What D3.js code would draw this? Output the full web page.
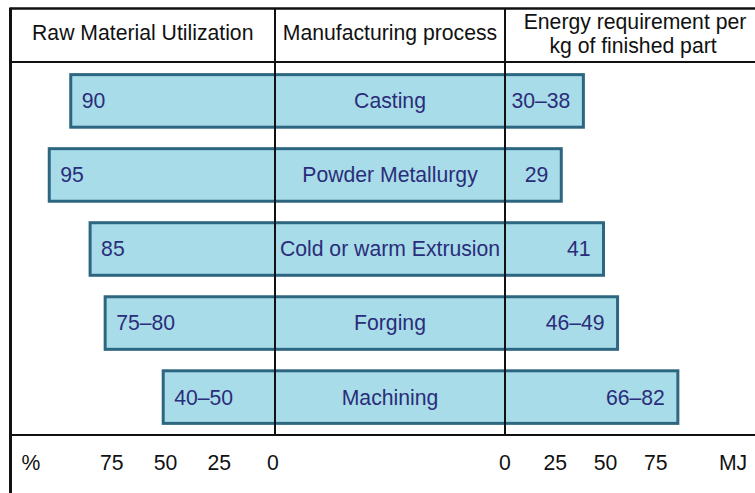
<!DOCTYPE html>
<html>
<head>
<meta charset="utf-8">
<script src="https://cdn.jsdelivr.net/npm/d3@7"></script>
<style>
  body { margin: 0; background: #fff; }
  svg { display: block; font-family: "Liberation Sans", Arial, Helvetica, sans-serif; }
</style>
</head>
<body>
<svg width="755" height="493"></svg>
<script>
// processes, top to bottom
var processes = ["Casting", "Powder Metallurgy", "Cold or warm Extrusion", "Forging", "Machining"];
// raw material utilization (%) : printed label and bar extent
var utilLabels = ["90", "95", "85", "75\u201380", "40\u201350"];
var utilBars = [95, 105, 86, 79, 52];
// energy requirement (MJ per kg) : printed label and bar extent
var energyLabels = ["30\u201338", "29", "41", "46\u201349", "66\u201382"];
var energyBars = [39, 28, 49, 56, 86];
// axis ticks
var utilTicks = [75, 50, 25, 0];
var energyTicks = [0, 25, 50, 75];

var svg = d3.select("svg"),
    width = +svg.attr("width"),
    height = +svg.attr("height");

var ink = "#111",
    fill = "#a8dce8",
    edge = "#2d6680",
    textCol = "#2a2d7a",
    fs = 21.2;

var frameL = 10.5, frameT = 8.5, frameR = 766,
    headB = 62, footT = 435,
    midL = 275, midR = 505;

// scales
var xUtil = d3.scaleLinear().domain([0, 100]).range([midL, midL - 215]);
var xEnergy = d3.scaleLinear().domain([0, 100]).range([midR, midR + 201]);
var y = d3.scaleBand().domain(processes).range([65, 433]).paddingInner(0.29).paddingOuter(0.13);

// bars
var rows = svg.append("g").selectAll("g")
    .data(processes)
    .enter().append("g");

rows.append("rect")
    .attr("x", function (d, i) { return xUtil(utilBars[i]); })
    .attr("y", function (d) { return y(d); })
    .attr("width", function (d, i) { return xEnergy(energyBars[i]) - xUtil(utilBars[i]); })
    .attr("height", y.bandwidth())
    .attr("fill", fill)
    .attr("stroke", edge)
    .attr("stroke-width", 3);

rows.append("text")
    .attr("x", function (d, i) { return xUtil(utilBars[i]) + 11; })
    .attr("y", function (d) { return y(d) + y.bandwidth() / 2; })
    .attr("dy", "0.35em")
    .attr("font-size", fs)
    .attr("fill", textCol)
    .text(function (d, i) { return utilLabels[i]; });

rows.append("text")
    .attr("x", (midL + midR) / 2)
    .attr("y", function (d) { return y(d) + y.bandwidth() / 2; })
    .attr("dy", "0.35em")
    .attr("text-anchor", "middle")
    .attr("font-size", fs)
    .attr("fill", textCol)
    .text(function (d) { return d; });

rows.append("text")
    .attr("x", function (d, i) { return xEnergy(energyBars[i]) - 13; })
    .attr("y", function (d) { return y(d) + y.bandwidth() / 2; })
    .attr("dy", "0.35em")
    .attr("text-anchor", "end")
    .attr("font-size", fs)
    .attr("fill", textCol)
    .text(function (d, i) { return energyLabels[i]; });

// frame and grid lines
var lines = svg.append("g").attr("stroke", ink);
lines.append("line").attr("x1", frameL).attr("x2", frameL).attr("y1", frameT - 1).attr("y2", height).attr("stroke-width", 3);
lines.append("line").attr("x1", frameL).attr("x2", frameR).attr("y1", frameT).attr("y2", frameT).attr("stroke-width", 2.5);
lines.append("line").attr("x1", frameL).attr("x2", frameR).attr("y1", headB).attr("y2", headB).attr("stroke-width", 2);
lines.append("line").attr("x1", frameL).attr("x2", frameR).attr("y1", footT).attr("y2", footT).attr("stroke-width", 2);
[midL, midR].forEach(function (x) {
    lines.append("line").attr("x1", x).attr("x2", x).attr("y1", frameT).attr("y2", footT).attr("stroke-width", 2);
});

// headers
var head = svg.append("g").attr("font-size", fs).attr("fill", ink).attr("text-anchor", "middle");
head.append("text").attr("x", (frameL + midL) / 2).attr("y", 40).text("Raw Material Utilization");
head.append("text").attr("x", (midL + midR) / 2).attr("y", 40).text("Manufacturing process");
head.append("text").attr("x", 635).attr("y", 29).text("Energy requirement per");
head.append("text").attr("x", 633).attr("y", 53).text("kg of finished part");

// axis rows
var axisY = 470;
var foot = svg.append("g").attr("font-size", fs).attr("fill", ink).attr("text-anchor", "middle");
foot.selectAll(".tu")
    .data(utilTicks)
    .enter().append("text")
    .attr("class", "tu")
    .attr("x", function (d) { return xUtil(d) - 2; })
    .attr("y", axisY)
    .text(function (d) { return d; });
foot.selectAll(".te")
    .data(energyTicks)
    .enter().append("text")
    .attr("class", "te")
    .attr("x", function (d) { return xEnergy(d); })
    .attr("y", axisY)
    .text(function (d) { return d; });
foot.append("text").attr("x", 31).attr("y", axisY).text("%");
foot.append("text").attr("x", 733).attr("y", axisY).text("MJ");
</script>
</body>
</html>
